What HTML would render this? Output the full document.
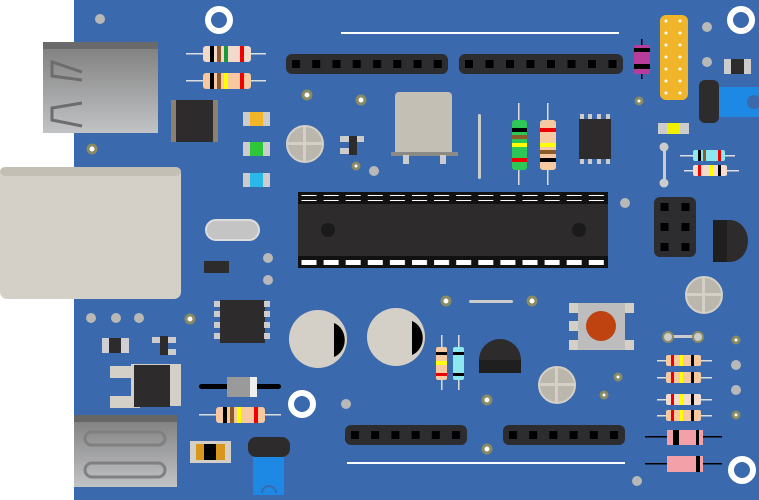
<!DOCTYPE html>
<html><head><meta charset="utf-8"><style>html,body{margin:0;padding:0;background:#fff}svg{display:block}</style></head>
<body>
<svg width="759" height="500" viewBox="0 0 759 500" xmlns="http://www.w3.org/2000/svg">
<defs>
<linearGradient id="usb" x1="0" y1="0" x2="0" y2="1"><stop offset="0" stop-color="#7d7d7d"/><stop offset="1" stop-color="#c2c3c5"/></linearGradient>
<pattern id="hdrA" x="286" y="54" width="20.25" height="20" patternUnits="userSpaceOnUse"><rect x="6" y="6" width="8" height="8" fill="#000"/></pattern>
<pattern id="hdrB" x="459" y="54" width="20.5" height="20" patternUnits="userSpaceOnUse"><rect x="6" y="6" width="8" height="8" fill="#000"/></pattern>
<pattern id="hdrC" x="345" y="425" width="20.2" height="20" patternUnits="userSpaceOnUse"><rect x="6" y="6" width="8" height="8" fill="#000"/></pattern>
<pattern id="hdrD" x="503" y="425" width="20.2" height="20" patternUnits="userSpaceOnUse"><rect x="6" y="6" width="8" height="8" fill="#000"/></pattern>
<pattern id="hdrE" x="654" y="197" width="21" height="20" patternUnits="userSpaceOnUse"><rect x="6.5" y="6" width="8" height="8" fill="#000"/></pattern>
<pattern id="pin" x="300" y="0" width="22.1" height="10" patternUnits="userSpaceOnUse"><rect x="1.5" y="0" width="15" height="6" fill="#fff"/></pattern>
</defs>
<rect x="74" y="0" width="685" height="500" fill="#3a6aad"/>
<!-- USB A -->
<rect x="43" y="42" width="115" height="91" fill="url(#usb)"/>
<rect x="43" y="42" width="115" height="7" fill="#6a6a6a"/>
<path d="M82 72 L52 62 L52 76 L82 80" fill="none" stroke="#6d6d6d" stroke-width="3"/>
<path d="M82 103 L52 108 L52 120 L82 126" fill="none" stroke="#6d6d6d" stroke-width="3"/>
<!-- ethernet -->
<rect x="0" y="167" width="181" height="132" rx="7" fill="#d5d0c7"/>
<rect x="0" y="167" width="181" height="9" rx="5" fill="#c4bfb5"/>
<!-- power jack -->
<rect x="74" y="415" width="103" height="72" fill="url(#usb)"/>
<rect x="74" y="415" width="103" height="7" fill="#666"/>
<rect x="85" y="432" width="80" height="13" rx="6.5" fill="none" stroke="#808080" stroke-width="3"/>
<rect x="85" y="463" width="80" height="14" rx="7" fill="none" stroke="#808080" stroke-width="3"/>
<!-- white rings -->
<g fill="none" stroke="#fff" stroke-width="6"><circle cx="219" cy="20" r="11"/><circle cx="741" cy="20" r="11"/><circle cx="302" cy="404" r="11"/><circle cx="742" cy="470" r="11"/></g>
<!-- gray dots -->
<g fill="#b8b8b8"><circle cx="100" cy="19" r="5"/><circle cx="707" cy="27" r="5"/><circle cx="707" cy="62" r="5"/><circle cx="374" cy="171" r="5"/><circle cx="625" cy="203" r="5"/><circle cx="268" cy="258" r="5"/><circle cx="268" cy="280" r="5"/><circle cx="91" cy="318" r="5"/><circle cx="116" cy="318" r="5"/><circle cx="139" cy="318" r="5"/><circle cx="346" cy="404" r="5"/><circle cx="736" cy="365" r="5"/><circle cx="736" cy="390" r="5"/><circle cx="637" cy="481" r="5"/></g>
<!-- gold vias -->
<g fill="#fff" stroke="#8a8a63" stroke-width="3"><circle cx="92" cy="149" r="4"/><circle cx="307" cy="95" r="4"/><circle cx="361" cy="100" r="4"/><circle cx="356" cy="166" r="3"/><circle cx="639" cy="101" r="3"/><circle cx="190" cy="319" r="4"/><circle cx="446" cy="301" r="4"/><circle cx="532" cy="301" r="4"/><circle cx="487" cy="400" r="4"/><circle cx="487" cy="449" r="4"/><circle cx="618" cy="377" r="3"/><circle cx="604" cy="395" r="3"/><circle cx="736" cy="340" r="3"/><circle cx="736" cy="415" r="3"/></g>
<!-- white traces -->
<rect x="341" y="32" width="278" height="2" fill="#fff"/>
<rect x="347" y="462" width="278" height="2" fill="#fff"/>
<rect x="469" y="300" width="44" height="3" rx="1.5" fill="#ccc"/>
<rect x="478" y="114" width="3" height="65" rx="1.5" fill="#ccc"/>
<!-- headers -->
<rect x="286" y="54" width="162" height="20" rx="6" fill="#2d2d2f"/><rect x="286" y="54" width="162" height="20" fill="url(#hdrA)"/>
<rect x="459" y="54" width="164" height="20" rx="6" fill="#2d2d2f"/><rect x="459" y="54" width="164" height="20" fill="url(#hdrB)"/>
<rect x="345" y="425" width="122" height="20" rx="6" fill="#2d2d2f"/><rect x="345" y="425" width="122" height="20" fill="url(#hdrC)"/>
<rect x="503" y="425" width="122" height="20" rx="6" fill="#2d2d2f"/><rect x="503" y="425" width="122" height="20" fill="url(#hdrD)"/>
<rect x="654" y="197" width="42" height="60" rx="6" fill="#2d2d2f"/><rect x="654" y="197" width="42" height="60" fill="url(#hdrE)"/>
<!-- main chip -->
<rect x="298" y="192" width="310" height="76" fill="#2d2b2c"/>
<rect x="298" y="192" width="310" height="12" fill="#111"/>
<rect x="298" y="256" width="310" height="12" fill="#111"/>
<rect x="300" y="195" width="306" height="6" fill="url(#pin)"/>
<rect x="300" y="259" width="306" height="6" fill="url(#pin)"/>
<circle cx="328" cy="230" r="7" fill="#1a1a1a"/><circle cx="579" cy="230" r="7" fill="#1a1a1a"/>
<!-- top resistors -->
<g><rect x="186" y="53" width="80" height="1.5" fill="#ddd"/><rect x="203" y="46" width="48" height="16" rx="3" fill="#f1d9cc"/><rect x="210" y="46" width="4" height="16" fill="#000"/><rect x="217" y="46" width="4" height="16" fill="#8b5a2b"/><rect x="224" y="46" width="4" height="16" fill="#1a9a3a"/><rect x="240" y="46" width="4" height="16" fill="#e00"/></g>
<g><rect x="186" y="80" width="80" height="1.5" fill="#ddd"/><rect x="203" y="73" width="48" height="16" rx="3" fill="#f6c9a1"/><rect x="210" y="73" width="4" height="16" fill="#000"/><rect x="217" y="73" width="4" height="16" fill="#8b5a2b"/><rect x="224" y="73" width="4" height="16" fill="#ff0"/><rect x="240" y="73" width="4" height="16" fill="#e00"/></g>
<!-- inductor -->
<rect x="171" y="100" width="47" height="42" fill="#8c8170"/><rect x="176" y="100" width="37" height="42" fill="#2d2b2c"/>
<!-- SMD leds -->
<rect x="243" y="112" width="27" height="14" fill="#ccc"/><rect x="250" y="112" width="13" height="14" fill="#f1b52a"/>
<rect x="243" y="142" width="27" height="14" fill="#ccc"/><rect x="250" y="142" width="13" height="14" fill="#2ec73a"/>
<rect x="243" y="173" width="27" height="14" fill="#ccc"/><rect x="250" y="173" width="13" height="14" fill="#2ab8e8"/>
<!-- pots small -->
<g><circle cx="305" cy="144" r="18" fill="#bbb7ad" stroke="#d5d0c7" stroke-width="2"/><rect x="303" y="127" width="3" height="34" fill="#d5d0c7"/><rect x="288" y="142" width="34" height="3" fill="#d5d0c7"/></g>
<g><circle cx="557" cy="385" r="18" fill="#bbb7ad" stroke="#d5d0c7" stroke-width="2"/><rect x="555" y="368" width="3" height="34" fill="#d5d0c7"/><rect x="540" y="383" width="34" height="3" fill="#d5d0c7"/></g>
<g><circle cx="704" cy="295" r="18" fill="#bbb7ad" stroke="#d5d0c7" stroke-width="2"/><rect x="702" y="278" width="3" height="34" fill="#d5d0c7"/><rect x="687" y="293" width="34" height="3" fill="#d5d0c7"/></g>
<!-- transistor SOT small -->
<rect x="340" y="136" width="24" height="6" fill="#ccc"/><rect x="340" y="148" width="10" height="6" fill="#ccc"/><rect x="349" y="136" width="8" height="19" fill="#2d2b2c"/>
<rect x="152" y="337" width="24" height="6" fill="#ccc"/><rect x="166" y="349" width="10" height="6" fill="#ccc"/><rect x="160" y="336" width="8" height="19" fill="#2d2b2c"/>
<!-- crystal -->
<rect x="395" y="92" width="57" height="64" rx="4" fill="#c4bfb5"/><rect x="391" y="152" width="67" height="4" fill="#8c8a84"/><rect x="403" y="155" width="6" height="9" fill="#ccc"/><rect x="440" y="155" width="6" height="9" fill="#ccc"/>
<!-- vertical resistors -->
<rect x="518" y="103" width="1.5" height="82" fill="#ddd"/><rect x="512" y="120" width="15" height="50" rx="3" fill="#2ec755"/><rect x="512" y="128" width="15" height="4" fill="#000"/><rect x="512" y="135" width="15" height="4" fill="#8b5a2b"/><rect x="512" y="143" width="15" height="4" fill="#ff0"/><rect x="512" y="158" width="15" height="4" fill="#e00"/>
<rect x="547" y="103" width="1.5" height="82" fill="#ddd"/><rect x="540" y="120" width="16" height="50" rx="3" fill="#f6c9a1"/><rect x="540" y="128" width="16" height="4" fill="#e00"/><rect x="540" y="143" width="16" height="4" fill="#ff0"/><rect x="540" y="150" width="16" height="4" fill="#8b5a2b"/><rect x="540" y="158" width="16" height="4" fill="#000"/>
<!-- SOIC right top -->
<rect x="579" y="119" width="32" height="40" fill="#2d2b2c"/>
<g fill="#ccc"><rect x="580" y="114" width="4" height="5"/><rect x="588" y="114" width="4" height="5"/><rect x="597" y="114" width="4" height="5"/><rect x="606" y="114" width="4" height="5"/><rect x="580" y="159" width="4" height="5"/><rect x="588" y="159" width="4" height="5"/><rect x="597" y="159" width="4" height="5"/><rect x="606" y="159" width="4" height="5"/></g>
<!-- magenta diode -->
<rect x="641" y="39" width="1.5" height="40" fill="#000"/><rect x="634" y="45" width="16" height="29" rx="2" fill="#b83c9c"/><rect x="634" y="48" width="16" height="4" fill="#000"/><rect x="634" y="64" width="16" height="5" fill="#000"/>
<!-- yellow ICSP -->
<rect x="660" y="15" width="28" height="85" rx="6" fill="#f1b52a"/>
<g fill="#fff"><circle cx="666" cy="21" r="1.5"/><circle cx="680" cy="21" r="1.5"/><circle cx="666" cy="33" r="1.5"/><circle cx="680" cy="33" r="1.5"/><circle cx="666" cy="45" r="1.5"/><circle cx="680" cy="45" r="1.5"/><circle cx="666" cy="57" r="1.5"/><circle cx="680" cy="57" r="1.5"/><circle cx="666" cy="69" r="1.5"/><circle cx="680" cy="69" r="1.5"/><circle cx="666" cy="81" r="1.5"/><circle cx="680" cy="81" r="1.5"/><circle cx="666" cy="93" r="1.5"/><circle cx="680" cy="93" r="1.5"/></g>
<!-- top right smd -->
<rect x="724" y="59" width="27" height="15" fill="#ccc"/><rect x="731" y="59" width="13" height="15" fill="#2d2b2c"/>
<!-- blue jumper top right -->
<rect x="719" y="87" width="40" height="30" fill="#1e88e5"/><circle cx="754" cy="102" r="7" fill="#3a6aad"/><rect x="699" y="80" width="20" height="43" rx="6" fill="#2d2b2c"/>
<!-- small yellow smd -->
<rect x="658" y="123" width="31" height="11" fill="#ccc"/><rect x="667" y="123" width="13" height="11" fill="#f0f000"/>
<!-- jumper vertical -->
<rect x="663" y="147" width="3" height="36" fill="#ccc"/><circle cx="664" cy="147" r="4.5" fill="#ccc"/><circle cx="664" cy="183" r="4.5" fill="#ccc"/>
<!-- small resistors right -->
<rect x="680" y="155" width="55" height="1.5" fill="#ddd"/><rect x="693" y="150" width="32" height="11" rx="2" fill="#8de7ef"/><rect x="698" y="150" width="3" height="11" fill="#000"/><rect x="703" y="150" width="3" height="11" fill="#8b5a2b"/><rect x="718" y="150" width="3" height="11" fill="#e00"/>
<rect x="684" y="170" width="55" height="1.5" fill="#ddd"/><rect x="693" y="165" width="34" height="11" rx="2" fill="#f3dbd0"/><rect x="698" y="165" width="3" height="11" fill="#e00"/><rect x="710" y="165" width="3" height="11" fill="#ff0"/><rect x="718" y="165" width="3" height="11" fill="#000"/>
<!-- TO92 right -->
<path d="M713 220 L730 220 A18 21 0 0 1 730 262 L713 262 Z" fill="#2d2b2c"/><rect x="713" y="220" width="14" height="42" fill="#1f1f1f"/>
<!-- crystal oval -->
<rect x="206" y="220" width="53" height="20" rx="10" fill="#c4c4c4" stroke="#ddd" stroke-width="2"/>
<!-- small IC -->
<rect x="204" y="261" width="25" height="12" fill="#2d2b2c"/>
<!-- SOIC8 -->
<rect x="220" y="300" width="45" height="43" fill="#2d2b2c"/>
<g fill="#ccc"><rect x="214" y="301" width="6" height="6"/><rect x="214" y="311" width="6" height="6"/><rect x="214" y="322" width="6" height="6"/><rect x="214" y="333" width="6" height="6"/><rect x="264" y="301" width="6" height="6"/><rect x="264" y="311" width="6" height="6"/><rect x="264" y="322" width="6" height="6"/><rect x="264" y="333" width="6" height="6"/></g>
<!-- smd left -->
<rect x="102" y="338" width="27" height="15" fill="#d0cfd3"/><rect x="109" y="338" width="12" height="15" fill="#2d2b2c"/>
<!-- regulator -->
<rect x="110" y="366" width="30" height="12" fill="#d5d0c7"/><rect x="110" y="396" width="30" height="12" fill="#d5d0c7"/><rect x="131" y="364" width="50" height="42" fill="#d5d0c7"/><rect x="134" y="365" width="36" height="42" fill="#2d2b2c"/>
<!-- diode black -->
<rect x="199" y="384" width="82" height="5" rx="2.5" fill="#000"/><rect x="227" y="377" width="30" height="20" fill="#9a9a9a"/><rect x="250" y="377" width="7" height="20" fill="#eee"/>
<!-- resistor -->
<rect x="199" y="414" width="82" height="1.5" fill="#ddd"/><rect x="216" y="407" width="49" height="16" rx="3" fill="#f6c9a1"/><rect x="223" y="407" width="4" height="16" fill="#000"/><rect x="230" y="407" width="4" height="16" fill="#8b5a2b"/><rect x="237" y="407" width="4" height="16" fill="#ff0"/><rect x="254" y="407" width="4" height="16" fill="#e00"/>
<!-- orange smd -->
<rect x="190" y="441" width="41" height="22" fill="#d5d0c7"/><rect x="196" y="444" width="29" height="16" fill="#d8961e"/><rect x="204" y="444" width="12" height="16" fill="#000"/>
<!-- blue jumper bottom -->
<rect x="253" y="457" width="31" height="38" fill="#1e88e5"/><path d="M262 493 A7 7 0 0 1 276 493" fill="none" stroke="#3a6aad" stroke-width="2"/><rect x="248" y="437" width="42" height="20" rx="8" fill="#2d2b2c"/>
<!-- big caps -->
<circle cx="318" cy="339" r="29" fill="#d5d0c7"/><path d="M334 323 A16 18 0 0 1 334 357 Z" fill="#000"/>
<circle cx="396" cy="337" r="29" fill="#d5d0c7"/><path d="M412 321 A16 18 0 0 1 412 355 Z" fill="#000"/>
<!-- small vertical resistors -->
<rect x="441" y="335" width="1.5" height="55" fill="#ddd"/><rect x="436" y="347" width="11" height="33" rx="2" fill="#f6c9a1"/><rect x="436" y="352" width="11" height="3" fill="#000"/><rect x="436" y="361" width="11" height="4" fill="#ff0"/><rect x="436" y="373" width="11" height="3" fill="#e00"/>
<rect x="458" y="335" width="1.5" height="55" fill="#ddd"/><rect x="453" y="347" width="11" height="33" rx="2" fill="#8de7ef"/><rect x="453" y="352" width="11" height="3" fill="#000"/><rect x="453" y="373" width="11" height="3" fill="#000"/>
<!-- TO92 bottom -->
<path d="M479 360 A21 21 0 0 1 521 360 L521 373 L479 373 Z" fill="#2d2b2c"/><rect x="479" y="360" width="42" height="13" fill="#1f1f1f"/>
<!-- button -->
<g fill="#d5d0c7"><rect x="569" y="303" width="9" height="10"/><rect x="569" y="321" width="9" height="10"/><rect x="569" y="340" width="9" height="10"/><rect x="625" y="303" width="9" height="10"/><rect x="625" y="340" width="9" height="10"/></g>
<rect x="578" y="303" width="47" height="47" fill="#bdbdbd"/><circle cx="601" cy="326" r="15" fill="#bf4310"/>
<!-- jumper horizontal -->
<rect x="668" y="335" width="30" height="3" fill="#ccc"/><circle cx="668" cy="337" r="5" fill="#ccc" stroke="#8a8a63" stroke-width="2"/><circle cx="698" cy="337" r="5" fill="#ccc" stroke="#8a8a63" stroke-width="2"/>
<!-- bottom right resistors -->
<g><rect x="657" y="360" width="55" height="1.5" fill="#ddd"/><rect x="666" y="355" width="35" height="11" rx="2" fill="#f6c9a1"/><rect x="671" y="355" width="3" height="11" fill="#e00"/><rect x="680" y="355" width="3" height="11" fill="#ff0"/><rect x="691" y="355" width="3" height="11" fill="#000"/></g>
<g><rect x="657" y="377" width="55" height="1.5" fill="#ddd"/><rect x="666" y="372" width="35" height="11" rx="2" fill="#f6c9a1"/><rect x="671" y="372" width="3" height="11" fill="#e00"/><rect x="680" y="372" width="3" height="11" fill="#ff0"/><rect x="691" y="372" width="3" height="11" fill="#000"/></g>
<g><rect x="657" y="399" width="55" height="1.5" fill="#ddd"/><rect x="666" y="394" width="35" height="11" rx="2" fill="#f3dbd0"/><rect x="671" y="394" width="3" height="11" fill="#e00"/><rect x="680" y="394" width="3" height="11" fill="#ff0"/><rect x="691" y="394" width="3" height="11" fill="#000"/></g>
<g><rect x="657" y="415" width="55" height="1.5" fill="#ddd"/><rect x="666" y="410" width="35" height="11" rx="2" fill="#f6c9a1"/><rect x="671" y="410" width="3" height="11" fill="#e00"/><rect x="680" y="410" width="3" height="11" fill="#ff0"/><rect x="691" y="410" width="3" height="11" fill="#000"/></g>
<!-- pink diodes -->
<rect x="645" y="436" width="77" height="1.5" fill="#000"/><rect x="667" y="430" width="36" height="15" fill="#f4a0a8"/><rect x="673" y="430" width="6" height="15" fill="#000"/><rect x="696" y="430" width="3" height="15" fill="#000"/>
<rect x="645" y="463" width="77" height="1.5" fill="#000"/><rect x="667" y="456" width="36" height="16" fill="#f4a0a8"/><rect x="696" y="456" width="4" height="16" fill="#000"/>
</svg>
</body></html>
